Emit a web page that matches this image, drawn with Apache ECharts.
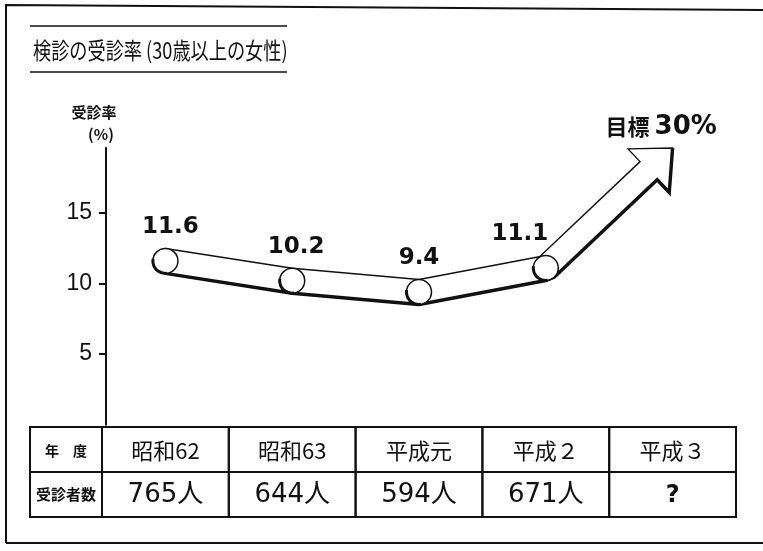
<!DOCTYPE html>
<html><head><meta charset="utf-8">
<script src="https://cdn.jsdelivr.net/npm/echarts@6/dist/echarts.min.js"></script>
<style>html,body{margin:0;padding:0;background:#fff}#c{width:763px;height:551px}</style>
</head><body><div id="c"></div>
<script>
// ---- data ----
const titleText = '検診の受診率 (30歳以上の女性)';
const years = ['昭和62', '昭和63', '平成元', '平成２', '平成３'];
const rates = [11.6, 10.2, 9.4, 11.1];
const examinees = [765, 644, 594, 671, null];
const targetRate = 30;
const yTicks = [5, 10, 15];

// ---- style / layout ----
const Y_MAX = 19.6;
const R = 12.5;
const INK = '#111';
const JP = '"Noto Sans CJK JP", sans-serif';
const labelDX = [5, 4, 0, -26];
const LABEL_DY = -34;
const TABLE_TOP = 427, ROW_H = 45;

const chart = echarts.init(document.getElementById('c'), null, {renderer: 'canvas'});

function ribbonItem(params, api) {
  const i = params.dataIndex;
  const p = api.coord([i, rates[i]]);
  const ch = [];
  if (i < rates.length - 1) {
    const q = api.coord([i + 1, rates[i + 1]]);
    ch.push({type: 'polygon', shape: {points: [[p[0], p[1] - R], [q[0], q[1] - R], [q[0], q[1] + R], [p[0], p[1] + R]]}, style: {fill: '#fff', stroke: null}});
    ch.push({type: 'line', shape: {x1: p[0], y1: p[1] - R, x2: q[0], y2: q[1] - R}, style: {stroke: INK, lineWidth: 1.4}});
    ch.push({type: 'line', shape: {x1: p[0], y1: p[1] + R, x2: q[0], y2: q[1] + R}, style: {stroke: INK, lineWidth: 3.4}});
  } else {
    const t = api.coord([years.length - 1, Math.min(targetRate, Y_MAX)]);
    const dx = t[0] - p[0], dy = t[1] - p[1], len = Math.hypot(dx, dy);
    const ux = dx / len, uy = dy / len, nx = -uy, ny = ux;
    const HL = 33, HW = 30, h = R;
    const bc = [t[0] - ux * HL, t[1] - uy * HL];
    const A = [p[0] - nx * h, p[1] - ny * h];
    const S1 = [bc[0] - nx * h, bc[1] - ny * h];
    const B1 = [bc[0] - nx * HW, bc[1] - ny * HW];
    const B2 = [bc[0] + nx * HW, bc[1] + ny * HW];
    const S2 = [bc[0] + nx * h, bc[1] + ny * h];
    const B = [p[0] + nx * h, p[1] + ny * h];
    const C = [p[0], p[1] + R];
    ch.push({type: 'polygon', shape: {points: [A, S1, B1, t, B2, S2, B, C]}, style: {fill: '#fff', stroke: INK, lineWidth: 1.4, lineJoin: 'miter'}});
    ch.push({type: 'polyline', shape: {points: [C, B, S2, B2, t]}, style: {stroke: INK, lineWidth: 3.4, fill: null, lineJoin: 'miter'}});
    ch.push({type: 'text', style: {text: '目標', x: t[0] - 23, y: t[1] - 21, align: 'right', verticalAlign: 'middle', font: 'bold 22px ' + JP, fill: INK}});
    ch.push({type: 'text', style: {text: targetRate + '%', x: t[0] - 18, y: t[1] - 21, align: 'left', verticalAlign: 'middle', font: 'bold 26px "DejaVu Sans"', fill: INK}});
  }
  ch.push({type: 'circle', shape: {cx: p[0], cy: p[1], r: R}, style: {fill: '#fff', stroke: INK, lineWidth: 1.5}});
  ch.push({type: 'arc', shape: {cx: p[0], cy: p[1], r: R, startAngle: Math.PI * 0.45, endAngle: Math.PI * 1.05, clockwise: true}, style: {stroke: INK, lineWidth: 3, fill: null}});
  ch.push({type: 'text', style: {text: String(rates[i]), x: p[0] + labelDX[i], y: p[1] + LABEL_DY, align: 'center', verticalAlign: 'middle', font: 'bold 23px "DejaVu Sans"', fill: INK}});
  return {type: 'group', children: ch};
}

function tableItem(params, api) {
  const i = params.dataIndex;
  const c = api.coord([i, 0]);
  const w = api.size([1, 0])[0];
  const x0 = c[0] - w / 2;
  const v = examinees[i];
  return {type: 'group', children: [
    {type: 'rect', shape: {x: x0, y: TABLE_TOP, width: w, height: ROW_H}, style: {fill: null, stroke: INK, lineWidth: 2}},
    {type: 'rect', shape: {x: x0, y: TABLE_TOP + ROW_H, width: w, height: ROW_H}, style: {fill: null, stroke: INK, lineWidth: 2}},
    {type: 'text', style: {text: years[i], x: c[0], y: TABLE_TOP + ROW_H / 2 + 1, align: 'center', verticalAlign: 'middle', font: '22px ' + JP, fill: INK}},
    {type: 'text', style: {text: v == null ? '?' : v + '人', x: c[0], y: TABLE_TOP + ROW_H * 1.5 + 1, align: 'center', verticalAlign: 'middle',
      font: (v == null ? 'bold 24px ' : '26px ') + '"DejaVu Sans", "Noto Sans CJK JP"', fill: INK}}
  ]};
}

chart.setOption({
  animation: false,
  backgroundColor: '#fff',
  grid: {left: 102, right: 27, top: 148, bottom: 126.3, containLabel: false, outerBoundsMode: 'none'},
  xAxis: {type: 'category', data: years, boundaryGap: true, show: false},
  yAxis: {
    type: 'value', min: 0, max: Y_MAX, interval: 5, offset: -4,
    axisLine: {show: true, lineStyle: {color: INK, width: 2}},
    axisTick: {show: true, customValues: yTicks, length: 7, lineStyle: {color: INK, width: 2}},
    axisLabel: {customValues: yTicks, margin: 14, fontSize: 23, fontFamily: '"Liberation Sans"', color: INK},
    splitLine: {show: false}
  },
  series: [
    {type: 'custom', renderItem: tableItem, data: years.map((y, i) => [i, 0]), clip: false, silent: true},
    {type: 'custom', renderItem: ribbonItem, data: rates.map((v, i) => [i, v]), clip: false, silent: true}
  ],
  graphic: [
    {type: 'polyline', shape: {points: [[6, 543], [6, 5], [763, 10]]}, style: {stroke: INK, lineWidth: 2, fill: null}},
    {type: 'line', shape: {x1: 6, y1: 543, x2: 763, y2: 543}, style: {stroke: INK, lineWidth: 2}},
    {type: 'line', shape: {x1: 30, y1: 26, x2: 287, y2: 26}, style: {stroke: INK, lineWidth: 1.5}},
    {type: 'line', shape: {x1: 30, y1: 72, x2: 287, y2: 72}, style: {stroke: INK, lineWidth: 1.5}},
    {type: 'text', x: 33, y: 50, scaleX: 0.79, style: {text: titleText, x: 0, y: 0, verticalAlign: 'middle', font: '23px ' + JP, fill: INK}},
    {type: 'text', style: {text: '受診率', x: 94, y: 112, align: 'center', verticalAlign: 'middle', font: 'bold 15px ' + JP, fill: INK}},
    {type: 'text', style: {text: '(%)', x: 101, y: 134, align: 'center', verticalAlign: 'middle', font: 'bold 15px ' + JP, fill: INK}},
    {type: 'rect', shape: {x: 30, y: TABLE_TOP, width: 72, height: ROW_H}, style: {fill: null, stroke: INK, lineWidth: 2}},
    {type: 'rect', shape: {x: 30, y: TABLE_TOP + ROW_H, width: 72, height: ROW_H}, style: {fill: null, stroke: INK, lineWidth: 2}},
    {type: 'text', style: {text: '年　度', x: 66, y: TABLE_TOP + ROW_H / 2 + 1, align: 'center', verticalAlign: 'middle', font: 'bold 14px ' + JP, fill: INK}},
    {type: 'text', style: {text: '受診者数', x: 66, y: TABLE_TOP + ROW_H * 1.5, align: 'center', verticalAlign: 'middle', font: 'bold 15px ' + JP, fill: INK}}
  ]
});
</script></body></html>
